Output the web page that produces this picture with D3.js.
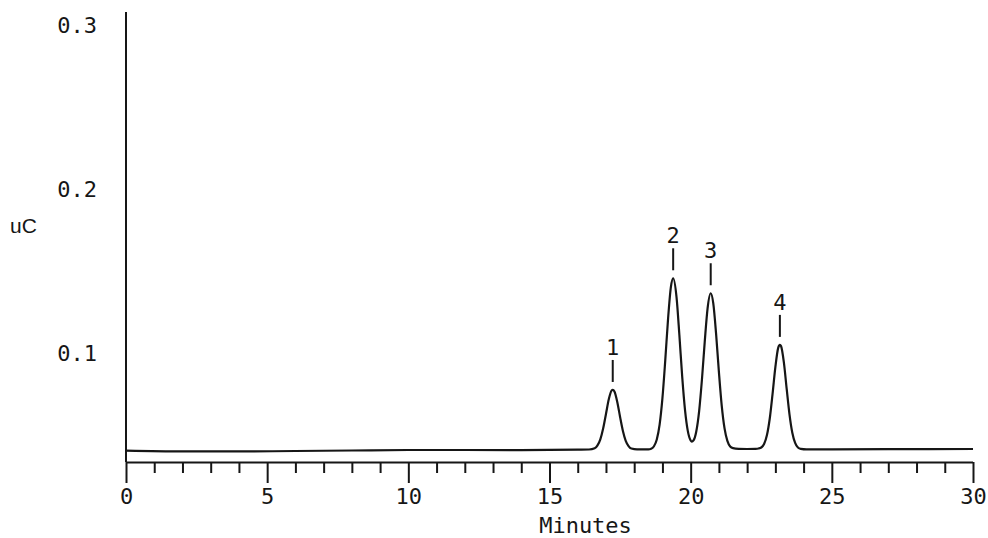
<!DOCTYPE html>
<html>
<head>
<meta charset="utf-8">
<script src="https://cdn.jsdelivr.net/npm/d3@7"></script>
<style>
  html, body { margin: 0; padding: 0; background: #ffffff; }
  svg { display: block; }
</style>
</head>
<body>
<svg id="chart" width="988" height="538"></svg>
<script>
// ---- data ----
const times = [
  0, 2, 4, 6, 8, 10, 12, 14, 16,
  16.4, 16.6, 16.7, 16.8, 16.9, 17.0, 17.1, 17.2, 17.24, 17.3, 17.4, 17.5, 17.6, 17.7, 17.8, 17.9, 18.1,
  18.5, 18.6, 18.7, 18.8, 18.9, 19.0, 19.1, 19.2, 19.3, 19.38, 19.5, 19.6, 19.7, 19.8, 19.9, 20.0, 20.04, 20.1,
  20.2, 20.3, 20.4, 20.5, 20.6, 20.71, 20.8, 20.9, 21.0, 21.1, 21.2, 21.3, 21.4, 21.5, 21.7, 22.0,
  22.3, 22.4, 22.5, 22.6, 22.7, 22.8, 22.9, 23.0, 23.1, 23.16, 23.2, 23.3, 23.4, 23.5, 23.6, 23.7, 23.8, 23.9, 24.1,
  25, 27, 30
];
const signal = [
  0.0412, 0.0407, 0.0407, 0.0410, 0.0413, 0.0416, 0.0416, 0.0415, 0.0418,
  0.0419, 0.0426, 0.0444, 0.0481, 0.0547, 0.0635, 0.0724, 0.0778, 0.0781, 0.0771, 0.0708, 0.0617, 0.0532, 0.0472, 0.0440, 0.0425, 0.0420,
  0.0420, 0.0424, 0.0439, 0.0480, 0.0570, 0.0731, 0.0961, 0.1215, 0.1408, 0.1460, 0.1344, 0.1115, 0.0862, 0.0659, 0.0531, 0.0474, 0.0467, 0.0474,
  0.0530, 0.0653, 0.0846, 0.1078, 0.1279, 0.1369, 0.1309, 0.1123, 0.0891, 0.0686, 0.0547, 0.0471, 0.0437, 0.0427, 0.0423, 0.0422,
  0.0423, 0.0425, 0.0431, 0.0452, 0.0505, 0.0606, 0.0756, 0.0920, 0.1037, 0.1055, 0.1048, 0.0950, 0.0789, 0.0633, 0.0521, 0.0459, 0.0431, 0.0423, 0.0420,
  0.0420, 0.0421, 0.0422
];
const peakLabels = ["1", "2", "3", "4"];
const peakTimes  = [17.24, 19.38, 20.71, 23.16];
const peakValues = [0.0781, 0.1460, 0.1369, 0.1055];
const yTickValues = [0.1, 0.2, 0.3];
const xMajorTicks = [0, 5, 10, 15, 20, 25, 30];
const xMinorTicks = d3.range(0, 31).filter(v => v % 5 !== 0);
const xTitle = "Minutes";
const yTitle = "uC";

// ---- layout ----
const plotLeft = 126, plotRight = 973, plotTop = 12, axisY = 462;
const svg = d3.select("#chart");
const ink = "#161616";
const mono = "'DejaVu Sans Mono', monospace";

const x = d3.scaleLinear().domain([0, 30]).range([plotLeft, plotRight]);
const y = d3.scaleLinear().domain([0.0343, 0.3079]).range([axisY, plotTop]);

// x axis: minor ticks
const gMinor = svg.append("g").attr("transform", `translate(0,${axisY})`)
  .call(d3.axisBottom(x).tickValues(xMinorTicks).tickSize(11).tickFormat(""));
gMinor.select(".domain").remove();
// x axis: major ticks with labels
const gMajor = svg.append("g").attr("transform", `translate(0,${axisY})`)
  .call(d3.axisBottom(x).tickValues(xMajorTicks).tickSize(21).tickSizeOuter(0).tickPadding(5).tickFormat(d3.format("d")));
gMajor.select(".domain").attr("d", `M${x(0)},0.5H${x(30)}`);

// y axis: labels only, plus vertical line
const gY = svg.append("g").attr("transform", `translate(${plotLeft},0)`)
  .call(d3.axisLeft(y).tickValues(yTickValues).tickSize(0).tickPadding(29).tickFormat(d3.format(".1f")));
gY.select(".domain").remove();
svg.append("line")
  .attr("x1", plotLeft).attr("x2", plotLeft)
  .attr("y1", y(0.3079)).attr("y2", axisY)
  .attr("stroke", ink).attr("stroke-width", 2);

svg.selectAll(".tick line").attr("stroke", ink).attr("stroke-width", 2);
svg.selectAll(".domain").attr("stroke", ink).attr("stroke-width", 2);
svg.selectAll(".tick text")
  .attr("fill", ink)
  .style("font-family", mono)
  .style("font-size", "22px");

// axis titles
svg.append("text")
  .attr("x", (x(0) + x(30)) / 2 + 36)
  .attr("y", 533)
  .attr("text-anchor", "middle")
  .attr("fill", ink)
  .style("font-family", mono)
  .style("font-size", "22px")
  .text(xTitle);

svg.append("text")
  .attr("x", 10)
  .attr("y", 233)
  .attr("fill", ink)
  .style("font-family", "'Liberation Sans', Arial, sans-serif")
  .style("font-size", "21px")
  .text(yTitle);

// trace
const pts = times.map((t, i) => [t, signal[i]]);
svg.append("path")
  .datum(pts)
  .attr("fill", "none")
  .attr("stroke", ink)
  .attr("stroke-width", 2.2)
  .attr("stroke-linejoin", "round")
  .attr("d", d3.line().x(d => x(d[0])).y(d => y(d[1])).curve(d3.curveMonotoneX));

// peak markers and labels
const peaks = peakLabels.map((l, i) => ({ label: l, t: peakTimes[i], v: peakValues[i] }));
const gp = svg.append("g");
gp.selectAll("line.mark").data(peaks).join("line")
  .attr("class", "mark")
  .attr("x1", d => x(d.t)).attr("x2", d => x(d.t))
  .attr("y1", d => y(d.v) - 30).attr("y2", d => y(d.v) - 8)
  .attr("stroke", ink).attr("stroke-width", 2);
gp.selectAll("text").data(peaks).join("text")
  .attr("x", d => x(d.t))
  .attr("y", d => y(d.v) - 35)
  .attr("text-anchor", "middle")
  .attr("fill", ink)
  .style("font-family", mono)
  .style("font-size", "22px")
  .text(d => d.label);
</script>
</body>
</html>
